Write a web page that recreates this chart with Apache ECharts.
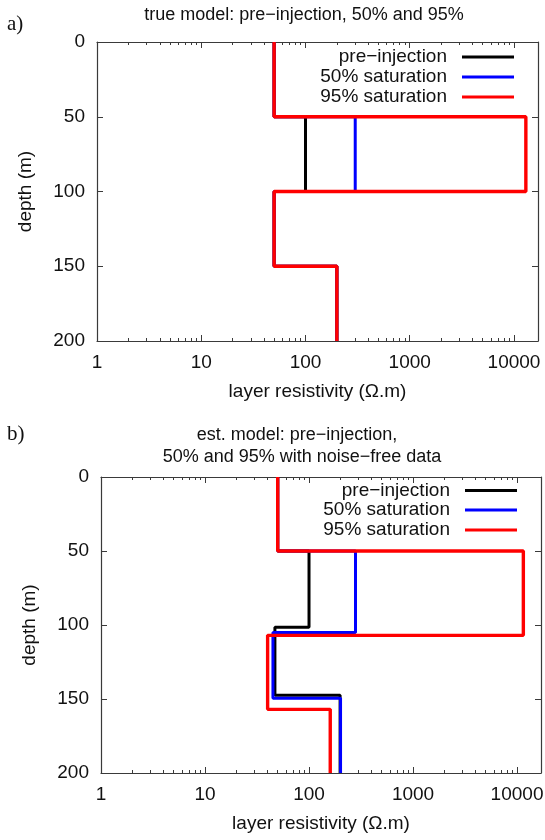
<!DOCTYPE html>
<html><head><meta charset="utf-8">
<script src="https://cdn.jsdelivr.net/npm/echarts@6/dist/echarts.min.js"></script>
<style>html,body{margin:0;padding:0;background:#fff}#c{width:545px;height:840px}</style>
</head><body><div id="c"></div>
<script>
// ---- data ----
const seriesNames = ['pre\u2212injection', '50% saturation', '95% saturation'];
const seriesColors = ['#000000', '#0000ff', '#ff0000'];
const depthTicks = [0, 50, 100, 150, 200];
const xMajorTicks = [1, 10, 100, 1000, 10000];
const xMinorTicks = [2, 3, 4, 5, 6, 7, 8, 9, 20, 30, 40, 50, 60, 70, 80, 90,
  200, 300, 400, 500, 600, 700, 800, 900, 2000, 3000, 4000, 5000, 6000, 7000, 8000, 9000];

// true model (layer top/bottom depths, layer resistivities)
const trueBoundsPre = [0, 50, 100, 150, 200];
const trueResPre    = [50, 100, 50, 200];
const trueBounds50  = [0, 50, 100, 150, 200];
const trueRes50     = [50, 300, 50, 200];
const trueBounds95  = [0, 50, 100, 150, 200];
const trueRes95     = [50, 13000, 50, 200];

// estimated model
const estBoundsPre = [0, 50, 101.5, 147.5, 200];
const estResPre    = [50, 100, 47, 199];
const estBounds50  = [0, 50, 105, 149.5, 200];
const estRes50     = [50, 280, 45, 201];
const estBounds95  = [0, 50, 107, 157, 200];
const estRes95     = [50, 11500, 40, 160];

// ---- build ----
function steps(bounds, res) {
  const pts = [];
  for (let i = 0; i < res.length; i++) {
    pts.push([res[i], bounds[i]]);
    pts.push([res[i], bounds[i + 1]]);
  }
  return pts;
}

const FONT = 'Liberation Sans';
const AX = '#3a3a3a';
const X_MIN = 1, X_MAX = 17000;

const grids = [
  {left: 97, top: 42, width: 441, height: 299, containLabel: false, outerBoundsMode: 'none'},
  {left: 101, top: 477, width: 440, height: 296, containLabel: false, outerBoundsMode: 'none'}
];

const xAxes = [], yAxes = [];
grids.forEach((g, gi) => {
  const base = {gridIndex: gi, type: 'log', logBase: 10, min: X_MIN, max: X_MAX,
    splitLine: {show: false}, minorTick: {show: false}, minorSplitLine: {show: false}};
  xAxes.push(Object.assign({}, base, {
    position: 'bottom',
    axisLine: {show: true, onZero: false, lineStyle: {color: AX, width: 1.2}},
    axisTick: {show: true, inside: true, length: 6, customValues: xMajorTicks, lineStyle: {color: AX}},
    axisLabel: {show: true, customValues: xMajorTicks, margin: 12, fontSize: 19, fontFamily: FONT, color: '#111',
      formatter: v => String(Math.round(v))},
    name: 'layer resistivity (\u03A9.m)', nameLocation: 'middle', nameGap: 41,
    nameTextStyle: {fontSize: 19, fontFamily: FONT, color: '#111'}
  }));
  xAxes.push(Object.assign({}, base, {
    position: 'bottom',
    axisLine: {show: false, onZero: false},
    axisTick: {show: true, inside: true, length: 3, customValues: xMinorTicks, lineStyle: {color: AX}},
    axisLabel: {show: false}
  }));
  xAxes.push(Object.assign({}, base, {
    position: 'top',
    axisLine: {show: true, onZero: false, lineStyle: {color: AX, width: 1.2}},
    axisTick: {show: true, inside: true, length: 6, customValues: xMajorTicks, lineStyle: {color: AX}},
    axisLabel: {show: false}
  }));
  xAxes.push(Object.assign({}, base, {
    position: 'top',
    axisLine: {show: false, onZero: false},
    axisTick: {show: true, inside: true, length: 3, customValues: xMinorTicks, lineStyle: {color: AX}},
    axisLabel: {show: false}
  }));
  const ybase = {gridIndex: gi, type: 'value', inverse: true, min: 0, max: 200, interval: 50,
    splitLine: {show: false}};
  yAxes.push(Object.assign({}, ybase, {
    position: 'left',
    axisLine: {show: true, onZero: false, lineStyle: {color: AX, width: 1.2}},
    axisTick: {show: true, inside: true, length: 6, lineStyle: {color: AX}},
    axisLabel: {show: true, margin: 12, fontSize: 19, fontFamily: FONT, color: '#111'},
    name: 'depth (m)', nameLocation: 'middle', nameGap: 62, nameRotate: 90,
    nameTextStyle: {fontSize: 19, fontFamily: FONT, color: '#111'}
  }));
  yAxes.push(Object.assign({}, ybase, {
    position: 'right',
    axisLine: {show: true, onZero: false, lineStyle: {color: AX, width: 1.2}},
    axisTick: {show: true, inside: true, length: 6, lineStyle: {color: AX}},
    axisLabel: {show: false}
  }));
});

const panels = [
  [[trueBoundsPre, trueResPre], [trueBounds50, trueRes50], [trueBounds95, trueRes95]],
  [[estBoundsPre, estResPre], [estBounds50, estRes50], [estBounds95, estRes95]]
];
const lineWidths = [3, 3, 3.4];
const series = [];
panels.forEach((p, gi) => {
  p.forEach((d, si) => {
    series.push({
      type: 'line', name: seriesNames[si],
      xAxisIndex: gi * 4, yAxisIndex: gi * 2,
      data: steps(d[0], d[1]),
      showSymbol: false, symbol: 'none', silent: true, z: 2 + si,
      lineStyle: {color: seriesColors[si], width: lineWidths[si]},
      itemStyle: {color: seriesColors[si]}
    });
  });
});

const legendTops = [[47.5, 67.5, 87.5], [481, 500.5, 520.5]];
const legendRights = [31, 28];
const legends = [];
legendTops.forEach((tops, gi) => {
  tops.forEach((t, si) => {
    legends.push({
      data: [seriesNames[si]], orient: 'vertical', right: legendRights[gi], top: t,
      icon: 'rect', itemWidth: 52, itemHeight: 3, itemGap: 0, align: 'right', padding: 0,
      selectedMode: false,
      textStyle: {fontSize: 19, fontFamily: FONT, color: '#111', padding: [0, 10, 0, 0]}
    });
  });
});

const graphics = [
  {type: 'text', x: 7, y: 24, style: {text: 'a)', font: '21px "Liberation Serif"', fill: '#111', verticalAlign: 'middle'}},
  {type: 'text', x: 304, y: 15, style: {text: 'true model: pre\u2212injection, 50% and 95%', font: '18px "Liberation Sans"', fill: '#111', align: 'center', verticalAlign: 'middle'}},
  {type: 'text', x: 7, y: 434, style: {text: 'b)', font: '21px "Liberation Serif"', fill: '#111', verticalAlign: 'middle'}},
  {type: 'text', x: 297, y: 435, style: {text: 'est. model: pre\u2212injection,', font: '18px "Liberation Sans"', fill: '#111', align: 'center', verticalAlign: 'middle'}},
  {type: 'text', x: 302, y: 457, style: {text: '50% and 95% with noise\u2212free data', font: '18px "Liberation Sans"', fill: '#111', align: 'center', verticalAlign: 'middle'}}
];

const chart = echarts.init(document.getElementById('c'), null, {renderer: 'canvas'});
chart.setOption({
  animation: false,
  backgroundColor: '#fff',
  grid: grids,
  xAxis: xAxes,
  yAxis: yAxes,
  legend: legends,
  graphic: graphics,
  series: series
});
</script>
</body></html>
